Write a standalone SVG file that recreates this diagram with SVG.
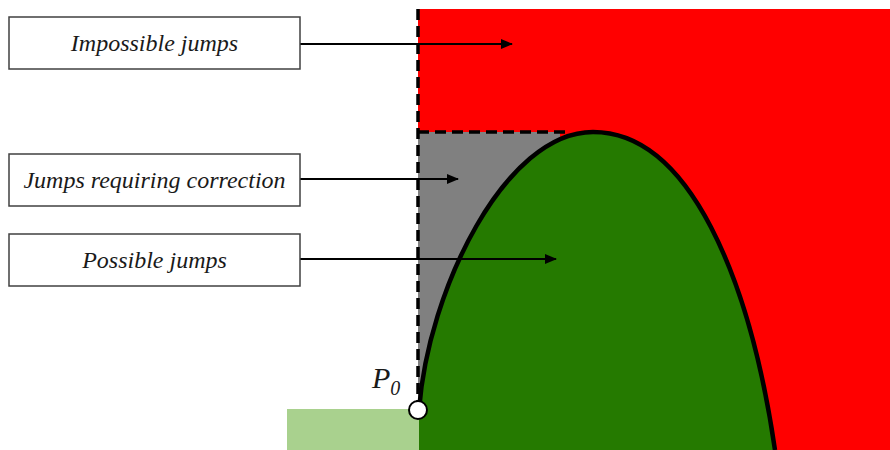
<svg xmlns="http://www.w3.org/2000/svg" width="890" height="450" viewBox="0 0 890 450">
<style>
.box{fill:#fff;stroke:#404040;stroke-width:1.5}
.lbl{font-family:"Liberation Serif","Times New Roman",serif;font-style:italic;font-size:24px;fill:#1a1a1a;text-anchor:middle}
.arr{stroke:#000;stroke-width:2;fill:none;marker-end:url(#ah)}
.dash{stroke:#000;stroke-width:3.5;stroke-dasharray:11,6;fill:none}
</style>
<defs>
<marker id="ah" viewBox="0 0 12 10" refX="11" refY="5" markerWidth="12" markerHeight="10" markerUnits="userSpaceOnUse" orient="auto">
<path d="M0,0 L12,5 L0,10 Z" fill="#000"/>
</marker>
</defs>
<g id="regions">
<rect x="418" y="9" width="472" height="441" fill="#ff0000"/>
<path d="M418,132 L560,132 L560,410 L418,410 Z" fill="#808080"/>
<rect x="287" y="409" width="133" height="41" fill="#a9d18e"/>
<path d="M419,410 C428,290 505,132 593,132 C690,132 750,280 775,450 L419,450 Z" fill="#257a00"/>
</g>
<g id="boundaries">
<path class="dash" d="M418,9 L418,405"/>
<path class="dash" d="M418,132 L565,132"/>
<path d="M419,410 C428,290 505,132 593,132 C690,132 750,280 775,450" fill="none" stroke="#000" stroke-width="4.5"/>
</g>
<g id="connectors">
<path class="arr" d="M300,44 L512,44"/>
<path class="arr" d="M300,179 L458,179"/>
<path class="arr" d="M300,259 L556,259"/>
</g>
<g id="node-impossible">
<rect class="box" x="9" y="17" width="291" height="52"/>
<text class="lbl" x="154.5" y="51">Impossible jumps</text>
</g>
<g id="node-correction">
<rect class="box" x="9" y="154" width="291" height="52"/>
<text class="lbl" x="154.5" y="188">Jumps requiring correction</text>
</g>
<g id="node-possible">
<rect class="box" x="9" y="234" width="291" height="52"/>
<text class="lbl" x="154.5" y="268">Possible jumps</text>
</g>
<g id="node-p0">
<circle cx="418" cy="410" r="9" fill="#fff" stroke="#000" stroke-width="2"/>
<text x="372" y="388" font-family="'Liberation Serif',serif" font-style="italic" font-size="30" fill="#1a1a1a">P<tspan font-size="20" dy="7">0</tspan></text>
</g>
</svg>
